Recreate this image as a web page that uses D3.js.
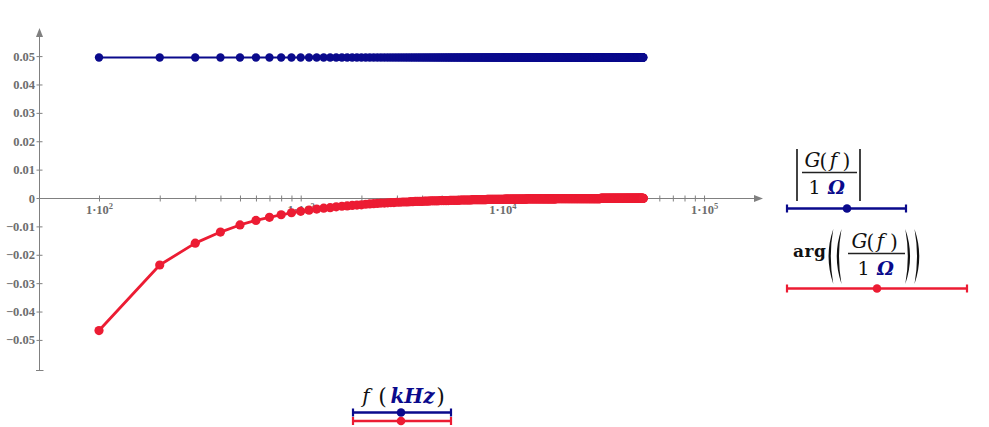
<!DOCTYPE html>
<html><head><meta charset="utf-8">
<script src="https://cdn.jsdelivr.net/npm/d3@7"></script>
<style>body{margin:0;background:#fff}svg{display:block}</style>
</head><body>
<script>
// ---------- data ----------
const freq = [
100,200,300,400,500,600,700,800,900,1000,
1100,1200,1300,1400,1500,1600,1700,1800,1900,2000,
2100,2200,2300,2400,2500,2600,2700,2800,2900,3000,
3100,3200,3300,3400,3500,3600,3700,3800,3900,4000,
4100,4200,4300,4400,4500,4600,4700,4800,4900,5000,
5100,5200,5300,5400,5500,5600,5700,5800,5900,6000,
6100,6200,6300,6400,6500,6600,6700,6800,6900,7000,
7100,7200,7300,7400,7500,7600,7700,7800,7900,8000,
8100,8200,8300,8400,8500,8600,8700,8800,8900,9000,
9100,9200,9300,9400,9500,9600,9700,9800,9900,10000,
10100,10200,10300,10400,10500,10600,10700,10800,10900,11000,
11100,11200,11300,11400,11500,11600,11700,11800,11900,12000,
12100,12200,12300,12400,12500,12600,12700,12800,12900,13000,
13100,13200,13300,13400,13500,13600,13700,13800,13900,14000,
14100,14200,14300,14400,14500,14600,14700,14800,14900,15000,
15100,15200,15300,15400,15500,15600,15700,15800,15900,16000,
16100,16200,16300,16400,16500,16600,16700,16800,16900,17000,
17100,17200,17300,17400,17500,17600,17700,17800,17900,18000,
18100,18200,18300,18400,18500,18600,18700,18800,18900,19000,
19100,19200,19300,19400,19500,19600,19700,19800,19900,20000,
20100,20200,20300,20400,20500,20600,20700,20800,20900,21000,
21100,21200,21300,21400,21500,21600,21700,21800,21900,22000,
22100,22200,22300,22400,22500,22600,22700,22800,22900,23000,
23100,23200,23300,23400,23500,23600,23700,23800,23900,24000,
24100,24200,24300,24400,24500,24600,24700,24800,24900,25000,
25100,25200,25300,25400,25500,25600,25700,25800,25900,26000,
26100,26200,26300,26400,26500,26600,26700,26800,26900,27000,
27100,27200,27300,27400,27500,27600,27700,27800,27900,28000,
28100,28200,28300,28400,28500,28600,28700,28800,28900,29000,
29100,29200,29300,29400,29500,29600,29700,29800,29900,30000,
30100,30200,30300,30400,30500,30600,30700,30800,30900,31000,
31100,31200,31300,31400,31500,31600,31700,31800,31900,32000,
32100,32200,32300,32400,32500,32600,32700,32800,32900,33000,
33100,33200,33300,33400,33500,33600,33700,33800,33900,34000,
34100,34200,34300,34400,34500,34600,34700,34800,34900,35000,
35100,35200,35300,35400,35500,35600,35700,35800,35900,36000,
36100,36200,36300,36400,36500,36600,36700,36800,36900,37000,
37100,37200,37300,37400,37500,37600,37700,37800,37900,38000,
38100,38200,38300,38400,38500,38600,38700,38800,38900,39000,
39100,39200,39300,39400,39500,39600,39700,39800,39900,40000,
40100,40200,40300,40400,40500,40600,40700,40800,40900,41000,
41100,41200,41300,41400,41500,41600,41700,41800,41900,42000,
42100,42200,42300,42400,42500,42600,42700,42800,42900,43000,
43100,43200,43300,43400,43500,43600,43700,43800,43900,44000,
44100,44200,44300,44400,44500,44600,44700,44800,44900,45000,
45100,45200,45300,45400,45500,45600,45700,45800,45900,46000,
46100,46200,46300,46400,46500,46600,46700,46800,46900,47000,
47100,47200,47300,47400,47500,47600,47700,47800,47900,48000,
48100,48200,48300,48400,48500,48600,48700,48800,48900,49000,
49100,49200,49300,49400,49500,49600,49700,49800,49900,50000
];
const magnitude = [
0.0495,0.0495,0.0495,0.0495,0.0495,0.0495,0.0495,0.0495,0.0495,0.0495,0.0495,0.0495,0.0495,0.0495,0.0495,0.0495,0.0495,0.0495,0.0495,0.0495,0.0495,0.0495,0.0495,0.0495,0.0495,
0.0495,0.0495,0.0495,0.0495,0.0495,0.0495,0.0495,0.0495,0.0495,0.0495,0.0495,0.0495,0.0495,0.0495,0.0495,0.0495,0.0495,0.0495,0.0495,0.0495,0.0495,0.0495,0.0495,0.0495,0.0495,
0.0495,0.0495,0.0495,0.0495,0.0495,0.0495,0.0495,0.0495,0.0495,0.0495,0.0495,0.0495,0.0495,0.0495,0.0495,0.0495,0.0495,0.0495,0.0495,0.0495,0.0495,0.0495,0.0495,0.0495,0.0495,
0.0495,0.0495,0.0495,0.0495,0.0495,0.0495,0.0495,0.0495,0.0495,0.0495,0.0495,0.0495,0.0495,0.0495,0.0495,0.0495,0.0495,0.0495,0.0495,0.0495,0.0495,0.0495,0.0495,0.0495,0.0495,
0.0495,0.0495,0.0495,0.0495,0.0495,0.0495,0.0495,0.0495,0.0495,0.0495,0.0495,0.0495,0.0495,0.0495,0.0495,0.0495,0.0495,0.0495,0.0495,0.0495,0.0495,0.0495,0.0495,0.0495,0.0495,
0.0495,0.0495,0.0495,0.0495,0.0495,0.0495,0.0495,0.0495,0.0495,0.0495,0.0495,0.0495,0.0495,0.0495,0.0495,0.0495,0.0495,0.0495,0.0495,0.0495,0.0495,0.0495,0.0495,0.0495,0.0495,
0.0495,0.0495,0.0495,0.0495,0.0495,0.0495,0.0495,0.0495,0.0495,0.0495,0.0495,0.0495,0.0495,0.0495,0.0495,0.0495,0.0495,0.0495,0.0495,0.0495,0.0495,0.0495,0.0495,0.0495,0.0495,
0.0495,0.0495,0.0495,0.0495,0.0495,0.0495,0.0495,0.0495,0.0495,0.0495,0.0495,0.0495,0.0495,0.0495,0.0495,0.0495,0.0495,0.0495,0.0495,0.0495,0.0495,0.0495,0.0495,0.0495,0.0495,
0.0495,0.0495,0.0495,0.0495,0.0495,0.0495,0.0495,0.0495,0.0495,0.0495,0.0495,0.0495,0.0495,0.0495,0.0495,0.0495,0.0495,0.0495,0.0495,0.0495,0.0495,0.0495,0.0495,0.0495,0.0495,
0.0495,0.0495,0.0495,0.0495,0.0495,0.0495,0.0495,0.0495,0.0495,0.0495,0.0495,0.0495,0.0495,0.0495,0.0495,0.0495,0.0495,0.0495,0.0495,0.0495,0.0495,0.0495,0.0495,0.0495,0.0495,
0.0495,0.0495,0.0495,0.0495,0.0495,0.0495,0.0495,0.0495,0.0495,0.0495,0.0495,0.0495,0.0495,0.0495,0.0495,0.0495,0.0495,0.0495,0.0495,0.0495,0.0495,0.0495,0.0495,0.0495,0.0495,
0.0495,0.0495,0.0495,0.0495,0.0495,0.0495,0.0495,0.0495,0.0495,0.0495,0.0495,0.0495,0.0495,0.0495,0.0495,0.0495,0.0495,0.0495,0.0495,0.0495,0.0495,0.0495,0.0495,0.0495,0.0495,
0.0495,0.0495,0.0495,0.0495,0.0495,0.0495,0.0495,0.0495,0.0495,0.0495,0.0495,0.0495,0.0495,0.0495,0.0495,0.0495,0.0495,0.0495,0.0495,0.0495,0.0495,0.0495,0.0495,0.0495,0.0495,
0.0495,0.0495,0.0495,0.0495,0.0495,0.0495,0.0495,0.0495,0.0495,0.0495,0.0495,0.0495,0.0495,0.0495,0.0495,0.0495,0.0495,0.0495,0.0495,0.0495,0.0495,0.0495,0.0495,0.0495,0.0495,
0.0495,0.0495,0.0495,0.0495,0.0495,0.0495,0.0495,0.0495,0.0495,0.0495,0.0495,0.0495,0.0495,0.0495,0.0495,0.0495,0.0495,0.0495,0.0495,0.0495,0.0495,0.0495,0.0495,0.0495,0.0495,
0.0495,0.0495,0.0495,0.0495,0.0495,0.0495,0.0495,0.0495,0.0495,0.0495,0.0495,0.0495,0.0495,0.0495,0.0495,0.0495,0.0495,0.0495,0.0495,0.0495,0.0495,0.0495,0.0495,0.0495,0.0495,
0.0495,0.0495,0.0495,0.0495,0.0495,0.0495,0.0495,0.0495,0.0495,0.0495,0.0495,0.0495,0.0495,0.0495,0.0495,0.0495,0.0495,0.0495,0.0495,0.0495,0.0495,0.0495,0.0495,0.0495,0.0495,
0.0495,0.0495,0.0495,0.0495,0.0495,0.0495,0.0495,0.0495,0.0495,0.0495,0.0495,0.0495,0.0495,0.0495,0.0495,0.0495,0.0495,0.0495,0.0495,0.0495,0.0495,0.0495,0.0495,0.0495,0.0495,
0.0495,0.0495,0.0495,0.0495,0.0495,0.0495,0.0495,0.0495,0.0495,0.0495,0.0495,0.0495,0.0495,0.0495,0.0495,0.0495,0.0495,0.0495,0.0495,0.0495,0.0495,0.0495,0.0495,0.0495,0.0495,
0.0495,0.0495,0.0495,0.0495,0.0495,0.0495,0.0495,0.0495,0.0495,0.0495,0.0495,0.0495,0.0495,0.0495,0.0495,0.0495,0.0495,0.0495,0.0495,0.0495,0.0495,0.0495,0.0495,0.0495,0.0495
];
const phase = [
// 1-20
-0.0467,-0.0236,-0.0159,-0.012,-0.0095,-0.0079,-0.0068,-0.0059,-0.0052,-0.0047,-0.0043,-0.0039,-0.0036,-0.0034,-0.0031,-0.0029,-0.0028,-0.0026,-0.0025,-0.0024,
// 21-40
-0.0022,-0.0021,-0.002,-0.0019,-0.0018,-0.0018,-0.0017,-0.0016,-0.0016,-0.0015,-0.0015,-0.0014,-0.0014,-0.0014,-0.0013,-0.0013,-0.0012,-0.0012,-0.0012,-0.0012,
// 41-60
-0.0011,-0.0011,-0.0011,-0.001,-0.001,-0.001,-0.001,-0.001,-0.0009,-0.0009,-0.0009,-0.0009,-0.0009,-0.0009,-0.0008,-0.0008,-0.0008,-0.0008,-0.0008,-0.0008,
// 61-80
-0.0008,-0.0007,-0.0007,-0.0007,-0.0007,-0.0007,-0.0007,-0.0007,-0.0007,-0.0007,-0.0006,-0.0006,-0.0006,-0.0006,-0.0006,-0.0006,-0.0006,-0.0006,-0.0006,-0.0006,
// 81-100
-0.0006,-0.0006,-0.0006,-0.0005,-0.0005,-0.0005,-0.0005,-0.0005,-0.0005,-0.0005,-0.0005,-0.0005,-0.0005,-0.0005,-0.0005,-0.0005,-0.0005,-0.0005,-0.0005,-0.0005,
// 101-120
-0.0005,-0.0005,-0.0004,-0.0004,-0.0004,-0.0004,-0.0004,-0.0004,-0.0004,-0.0004,-0.0004,-0.0004,-0.0004,-0.0004,-0.0004,-0.0004,-0.0004,-0.0004,-0.0004,-0.0004,
// 121-140
-0.0004,-0.0004,-0.0004,-0.0004,-0.0004,-0.0004,-0.0004,-0.0004,-0.0004,-0.0004,-0.0004,-0.0003,-0.0003,-0.0003,-0.0003,-0.0003,-0.0003,-0.0003,-0.0003,-0.0003,
// 141-160
-0.0003,-0.0003,-0.0003,-0.0003,-0.0003,-0.0003,-0.0003,-0.0003,-0.0003,-0.0003,-0.0003,-0.0003,-0.0003,-0.0003,-0.0003,-0.0003,-0.0003,-0.0003,-0.0003,-0.0003,
// 161-180
-0.0003,-0.0003,-0.0003,-0.0003,-0.0003,-0.0003,-0.0003,-0.0003,-0.0003,-0.0003,-0.0003,-0.0003,-0.0003,-0.0003,-0.0003,-0.0003,-0.0003,-0.0003,-0.0003,-0.0003,
// 181-200
-0.0003,-0.0003,-0.0003,-0.0003,-0.0002,-0.0002,-0.0002,-0.0002,-0.0002,-0.0002,-0.0002,-0.0002,-0.0002,-0.0002,-0.0002,-0.0002,-0.0002,-0.0002,-0.0002,-0.0002,
// 201-220
-0.0002,-0.0002,-0.0002,-0.0002,-0.0002,-0.0002,-0.0002,-0.0002,-0.0002,-0.0002,-0.0002,-0.0002,-0.0002,-0.0002,-0.0002,-0.0002,-0.0002,-0.0002,-0.0002,-0.0002,
// 221-240
-0.0002,-0.0002,-0.0002,-0.0002,-0.0002,-0.0002,-0.0002,-0.0002,-0.0002,-0.0002,-0.0002,-0.0002,-0.0002,-0.0002,-0.0002,-0.0002,-0.0002,-0.0002,-0.0002,-0.0002,
// 241-260
-0.0002,-0.0002,-0.0002,-0.0002,-0.0002,-0.0002,-0.0002,-0.0002,-0.0002,-0.0002,-0.0002,-0.0002,-0.0002,-0.0002,-0.0002,-0.0002,-0.0002,-0.0002,-0.0002,-0.0002,
// 261-280
-0.0002,-0.0002,-0.0002,-0.0002,-0.0002,-0.0002,-0.0002,-0.0002,-0.0002,-0.0002,-0.0002,-0.0002,-0.0002,-0.0002,-0.0002,-0.0002,-0.0002,-0.0002,-0.0002,-0.0002,
// 281-300
-0.0002,-0.0002,-0.0002,-0.0002,-0.0002,-0.0002,-0.0002,-0.0002,-0.0002,-0.0002,-0.0002,-0.0002,-0.0002,-0.0002,-0.0002,-0.0002,-0.0002,-0.0002,-0.0002,-0.0002,
// 301-320
-0.0002,-0.0002,-0.0002,-0.0002,-0.0002,-0.0002,-0.0001,-0.0001,-0.0001,-0.0001,-0.0001,-0.0001,-0.0001,-0.0001,-0.0001,-0.0001,-0.0001,-0.0001,-0.0001,-0.0001,
// 321-340
-0.0001,-0.0001,-0.0001,-0.0001,-0.0001,-0.0001,-0.0001,-0.0001,-0.0001,-0.0001,-0.0001,-0.0001,-0.0001,-0.0001,-0.0001,-0.0001,-0.0001,-0.0001,-0.0001,-0.0001,
// 341-360
-0.0001,-0.0001,-0.0001,-0.0001,-0.0001,-0.0001,-0.0001,-0.0001,-0.0001,-0.0001,-0.0001,-0.0001,-0.0001,-0.0001,-0.0001,-0.0001,-0.0001,-0.0001,-0.0001,-0.0001,
// 361-380
-0.0001,-0.0001,-0.0001,-0.0001,-0.0001,-0.0001,-0.0001,-0.0001,-0.0001,-0.0001,-0.0001,-0.0001,-0.0001,-0.0001,-0.0001,-0.0001,-0.0001,-0.0001,-0.0001,-0.0001,
// 381-400
-0.0001,-0.0001,-0.0001,-0.0001,-0.0001,-0.0001,-0.0001,-0.0001,-0.0001,-0.0001,-0.0001,-0.0001,-0.0001,-0.0001,-0.0001,-0.0001,-0.0001,-0.0001,-0.0001,-0.0001,
// 401-420
-0.0001,-0.0001,-0.0001,-0.0001,-0.0001,-0.0001,-0.0001,-0.0001,-0.0001,-0.0001,-0.0001,-0.0001,-0.0001,-0.0001,-0.0001,-0.0001,-0.0001,-0.0001,-0.0001,-0.0001,
// 421-440
-0.0001,-0.0001,-0.0001,-0.0001,-0.0001,-0.0001,-0.0001,-0.0001,-0.0001,-0.0001,-0.0001,-0.0001,-0.0001,-0.0001,-0.0001,-0.0001,-0.0001,-0.0001,-0.0001,-0.0001,
// 441-460
-0.0001,-0.0001,-0.0001,-0.0001,-0.0001,-0.0001,-0.0001,-0.0001,-0.0001,-0.0001,-0.0001,-0.0001,-0.0001,-0.0001,-0.0001,-0.0001,-0.0001,-0.0001,-0.0001,-0.0001,
// 461-480
-0.0001,-0.0001,-0.0001,-0.0001,-0.0001,-0.0001,-0.0001,-0.0001,-0.0001,-0.0001,-0.0001,-0.0001,-0.0001,-0.0001,-0.0001,-0.0001,-0.0001,-0.0001,-0.0001,-0.0001,
// 481-500
-0.0001,-0.0001,-0.0001,-0.0001,-0.0001,-0.0001,-0.0001,-0.0001,-0.0001,-0.0001,-0.0001,-0.0001,-0.0001,-0.0001,-0.0001,-0.0001,-0.0001,-0.0001,-0.0001,-0.0001
];
const yTicks = [-0.05,-0.04,-0.03,-0.02,-0.01,0,0.01,0.02,0.03,0.04,0.05];
const xMajorTicks = [100,1000,10000,100000];
const xMinorTicks = [200,300,400,500,600,700,800,900,2000,3000,4000,5000,6000,7000,8000,9000,
  20000,30000,40000,50000,60000,70000,80000,90000];

// ---------- chart ----------
const W = 989, H = 427;
const axisColor = "#808080", tickText = "#6e6e6e";
const blue = "#0a0a8c", red = "#ec1c33";
const serif = "DejaVu Serif";
const tickFont = "Liberation Serif";

const svg = d3.select("body").append("svg").attr("width", W).attr("height", H);
const x = d3.scaleLog().domain([50.4, 196000]).range([39, 763]);
const y = d3.scaleLinear().domain([-0.0606, 0.0599]).range([370, 28]);

const x0 = 39.5, y0 = Math.round(y(0)) + 0.5;

// X axis
const gx = svg.append("g").attr("transform", `translate(0,${y0})`)
  .call(d3.axisBottom(x).tickValues(xMajorTicks.concat(xMinorTicks))
    .tickSizeInner(3).tickSizeOuter(0).tickFormat(() => ""));
gx.select(".domain").remove();
gx.selectAll(".tick line").attr("y1", -3).attr("y2", 3).attr("stroke", axisColor);
gx.append("line").attr("x1", x0).attr("x2", x.range()[1] - 7).attr("stroke", axisColor);
gx.append("path").attr("d", `M${x.range()[1]},0L${x.range()[1]-9},-3.5L${x.range()[1]-9},3.5Z`).attr("fill", axisColor);
gx.selectAll(".tick").filter(d => xMajorTicks.includes(d)).each(function(d) {
  const t = d3.select(this).select("text")
    .attr("y", 15.5).attr("dy", null).attr("fill", tickText)
    .attr("font-family", tickFont).attr("font-size", 12.5).attr("font-weight", "bold")
    .attr("text-anchor", "middle");
  t.text("1·10");
  t.append("tspan").attr("dy", -5).attr("font-size", 8.5).text(String(Math.round(Math.log10(d))));
});

// Y axis
const gy = svg.append("g").attr("transform", `translate(${x0},0)`)
  .call(d3.axisLeft(y).tickValues(yTicks).tickSizeInner(3).tickSizeOuter(0)
    .tickFormat(d3.format(".2~f")));
gy.select(".domain").remove();
gy.selectAll(".tick line").attr("x1", -3).attr("x2", 3).attr("stroke", axisColor);
gy.selectAll(".tick text").attr("x", -4.5).attr("fill", tickText)
  .attr("font-family", tickFont).attr("font-size", 12.5).attr("font-weight", "bold");
gy.append("line").attr("y1", y.range()[1] + 7).attr("y2", y.range()[0]).attr("stroke", axisColor);
gy.append("line").attr("x1", -3.5).attr("x2", 4).attr("y1", y.range()[0] + 0.5).attr("y2", y.range()[0] + 0.5).attr("stroke", axisColor);
gy.append("path").attr("d", `M0,${y.range()[1]}L-3.5,${y.range()[1]+9}L3.5,${y.range()[1]+9}Z`).attr("fill", axisColor);

// series
const magData = freq.map((f, i) => ({ f, v: magnitude[i] })).filter(d => d.v !== undefined);
const phData = freq.map((f, i) => ({ f, v: phase[i] })).filter(d => d.v !== undefined);
const line = d3.line().x(d => x(d.f)).y(d => y(d.v));

function drawSeries(data, color, lw, r) {
  const g = svg.append("g");
  g.append("path").datum(data).attr("d", line).attr("fill", "none")
    .attr("stroke", color).attr("stroke-width", lw).attr("stroke-linejoin", "round");
  g.selectAll("circle").data(data).join("circle")
    .attr("cx", d => x(d.f)).attr("cy", d => y(d.v)).attr("r", r).attr("fill", color);
}
drawSeries(magData, blue, 2.2, 4.2);
drawSeries(phData, red, 2.8, 4.6);

// ---------- legend helpers ----------
function glyph(s, cx, by, opt = {}) {
  return svg.append("text").attr("x", cx).attr("y", by)
    .attr("text-anchor", opt.anchor || "middle")
    .attr("font-family", serif).attr("font-size", opt.size || 19)
    .attr("font-style", opt.italic ? "italic" : "normal")
    .attr("font-weight", opt.bold ? "bold" : "normal")
    .attr("fill", opt.color || "#111").text(s);
}
function hline(x1, x2, yy, color, w) {
  svg.append("line").attr("x1", x1).attr("x2", x2).attr("y1", yy).attr("y2", yy)
    .attr("stroke", color).attr("stroke-width", w);
}
function vline(xx, y1, y2, color, w) {
  svg.append("line").attr("x1", xx).attr("x2", xx).attr("y1", y1).attr("y2", y2)
    .attr("stroke", color).attr("stroke-width", w);
}
function paren(cx, top, bot, open) {
  const s = open ? 1 : -1, mid = (top + bot) / 2;
  const e = cx + 3 * s, o = cx - 6.5 * s, i = cx - 2 * s;
  svg.append("path")
    .attr("d", `M${e},${top}Q${o},${mid} ${e},${bot}Q${i},${mid} ${e},${top}Z`)
    .attr("fill", "#111");
}
function legendLine(x1, x2, yy, color, dotX) {
  hline(x1, x2, yy, color, 2.4);
  vline(x1 + 1, yy - 4, yy + 4, color, 2.2);
  vline(x2 - 1, yy - 4, yy + 4, color, 2.2);
  svg.append("circle").attr("cx", dotX).attr("cy", yy).attr("r", 4.3).attr("fill", color);
}

// Legend: |G(f) / 1 Ω|
vline(797, 149, 201, "#222", 1.7);
vline(860, 149, 201, "#222", 1.7);
glyph("G", 812.5, 167, { italic: true, size: 20 });
glyph("(", 823.5, 168, { size: 20 });
glyph("f", 833.5, 167, { italic: true, size: 20 });
glyph(")", 846.5, 168, { size: 20 });
hline(802, 857, 172.5, "#222", 1.3);
glyph("1", 814.5, 194, { size: 19 });
glyph("Ω", 836.5, 194, { italic: true, bold: true, color: blue, size: 19 });
legendLine(786, 907, 208.5, blue, 847);

// Legend: arg((G(f) / 1 Ω))
glyph("arg", 793, 257, { anchor: "start", bold: true, size: 17 }).attr("textLength", 33);
paren(830.3, 229, 284, true);
paren(838.5, 229, 284, true);
glyph("G", 859.5, 248, { italic: true, size: 20 });
glyph("(", 870.5, 249, { size: 20 });
glyph("f", 880.5, 248, { italic: true, size: 20 });
glyph(")", 894, 249, { size: 20 });
hline(848, 905, 253.5, "#222", 1.3);
glyph("1", 863.5, 275, { size: 19 });
glyph("Ω", 885.5, 275, { italic: true, bold: true, color: blue, size: 19 });
paren(908.3, 229, 284, false);
paren(917.5, 229, 284, false);
legendLine(786, 968, 288.5, red, 877);

// X legend: f (kHz)
glyph("f", 366, 403, { italic: true, size: 20 });
glyph("(", 382.5, 404, { size: 22 });
glyph("kHz", 412.5, 403, { italic: true, bold: true, color: blue, size: 20 });
glyph(")", 440.5, 404, { size: 22 });
legendLine(352, 452, 412.5, blue, 401);
legendLine(352, 452, 421, red, 401);
</script>
</body></html>
